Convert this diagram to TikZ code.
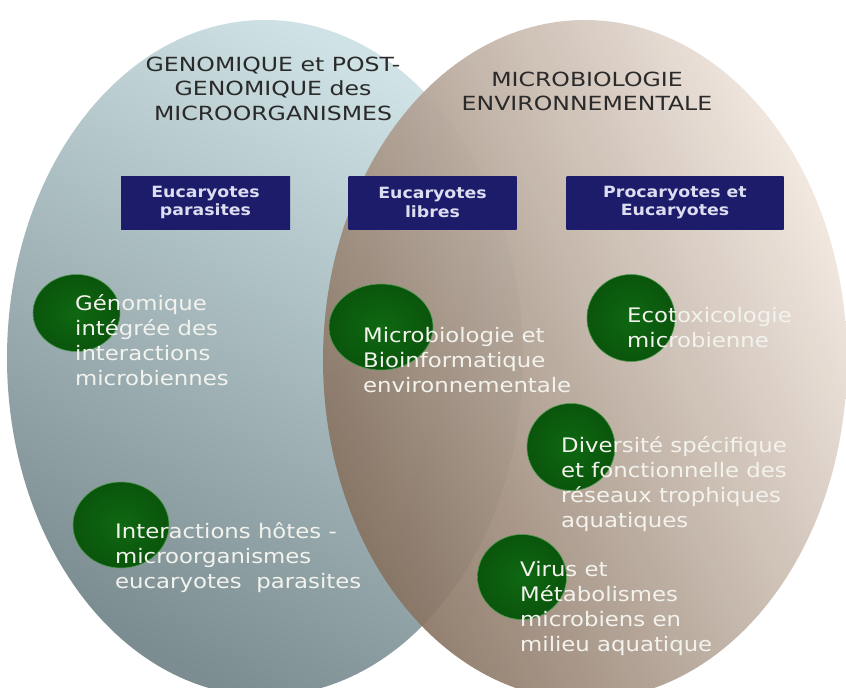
\documentclass[tikz,border=0pt]{standalone}
\usepackage{fontspec}
\usepackage{tikz}
\usetikzlibrary{shapes.geometric}

\setmainfont{DejaVu Sans}
\newfontfamily\bodyfont[FakeStretch=1.14]{DejaVu Sans}
\newfontfamily\titlefont[FakeStretch=1.21]{DejaVu Sans}
\newfontfamily\boxfont[FakeStretch=1.12]{DejaVu Sans}

\definecolor{leftlight}{HTML}{CFE2E6}
\definecolor{leftdark}{HTML}{7B8D91}
\definecolor{rightlight}{HTML}{F2E8E0}
\definecolor{rightmid}{HTML}{B39E8D}
\definecolor{rightdark}{HTML}{85705E}
\definecolor{boxblue}{HTML}{2E2E96}
\definecolor{boxdark}{HTML}{1C1C6A}
\definecolor{spotgreen}{HTML}{0F6812}
\definecolor{spotdark}{HTML}{0A550C}
\definecolor{spotrim}{HTML}{4E9A4E}
\definecolor{titlegray}{HTML}{2A2A2A}
\definecolor{labelwhite}{HTML}{F3F3EE}
\definecolor{boxtext}{HTML}{DDDDF2}

\begin{document}
\begin{tikzpicture}[x=1pt,y=-1pt,
		spot/.style={ellipse,inner sep=0pt,inner color=spotgreen,outer color=spotdark,draw=spotrim,line width=0.6pt},
		topic/.style={anchor=base west,inner sep=0pt,align=left,text=labelwhite,font=\bodyfont\fontsize{20}{24.7}\selectfont},
		group/.style={rectangle,inner sep=0pt,minimum height=53pt,top color=boxdark,middle color=boxblue,bottom color=boxdark,text=boxtext,align=center,font=\boxfont\bfseries\fontsize{15.5}{18.5}\selectfont},
		heading/.style={anchor=base,inner sep=0pt,align=center,text=titlegray}]
		\useasboundingbox (0,0) rectangle (846,688);
		\fill[white] (0,0) rectangle (846,688);
%		\draw[help lines,step=50] (0,0) grid (846,688);
		\path (265,358) coordinate (genome);
		\path (585,360) coordinate (environ);

		% multi-line nodes sit on the baseline of their last line
		\path (273,120) coordinate (genome_title);
		\path (587,110) coordinate (environ_title);

		\path (205.5,202.5) coordinate (parasites_box);
		\path (432.5,202.5) coordinate (libres_box);
		\path (675,202.5) coordinate (procaryotes_box);

		\path (76.5,313) coordinate (integree_spot);
		\path (121,525) coordinate (hotes_spot);
		\path (381,327) coordinate (bioinfo_spot);
		\path (631,318) coordinate (ecotox_spot);
		\path (571,447) coordinate (trophique_spot);
		\path (522,577) coordinate (virus_spot);

		% the two fields
		\shade[top color=leftlight,bottom color=leftdark,shading angle=-30] (genome) ellipse [x radius=258,y radius=338];
		\shade[top color=rightlight,middle color=rightmid,bottom color=rightdark,shading angle=-65,opacity=0.92] (environ) ellipse [x radius=262,y radius=340];

		\draw (genome_title) node (genome_head) [heading,font=\titlefont\fontsize{19.5}{24.5}\selectfont] {GENOMIQUE et POST-\\GENOMIQUE des\\MICROORGANISMES};
		\draw (environ_title) node (environ_head) [heading,font=\titlefont\fontsize{19.5}{24}\selectfont] {MICROBIOLOGIE\\ENVIRONNEMENTALE};

		\draw (parasites_box) node (parasites) [group,minimum width=169pt] {Eucaryotes\\parasites};
		\draw (libres_box) node (libres) [group,minimum width=168pt] {Eucaryotes\\libres};
		\draw (procaryotes_box) node (procaryotes) [group,minimum width=217pt] {Procaryotes et\\Eucaryotes};

		% green spots, the text runs over them
		\draw (integree_spot) node (integree) [spot,minimum width=87pt,minimum height=77pt] {};
		\draw (hotes_spot) node (hotes) [spot,minimum width=96pt,minimum height=86pt] {};
		\draw (bioinfo_spot) node (bioinfo) [spot,minimum width=104pt,minimum height=86pt] {};
		\draw (ecotox_spot) node (ecotox) [spot,minimum width=88pt,minimum height=87pt] {};
		\draw (trophique_spot) node (trophique) [spot,minimum width=88pt,minimum height=87pt] {};
		\draw (virus_spot) node (virus) [spot,minimum width=89pt,minimum height=85pt] {};

		\draw (75,385) node (integree_text) [topic] {Génomique\\intégrée des\\interactions\\microbiennes};
		\draw (115,588) node (hotes_text) [topic] {Interactions hôtes -\\microorganismes\\eucaryotes\ \ parasites};
		\draw (363,392) node (bioinfo_text) [topic] {Microbiologie et\\Bioinformatique\\environnementale};
		\draw (627,347) node (ecotox_text) [topic] {Ecotoxicologie\\microbienne};
		\draw (561,527) node (trophique_text) [topic] {Diversité spécifique\\et fonctionnelle des\\réseaux trophiques\\aquatiques};
		\draw (520,651) node (virus_text) [topic] {Virus et\\Métabolismes\\microbiens en\\milieu aquatique};
	\end{tikzpicture}
\end{document}
